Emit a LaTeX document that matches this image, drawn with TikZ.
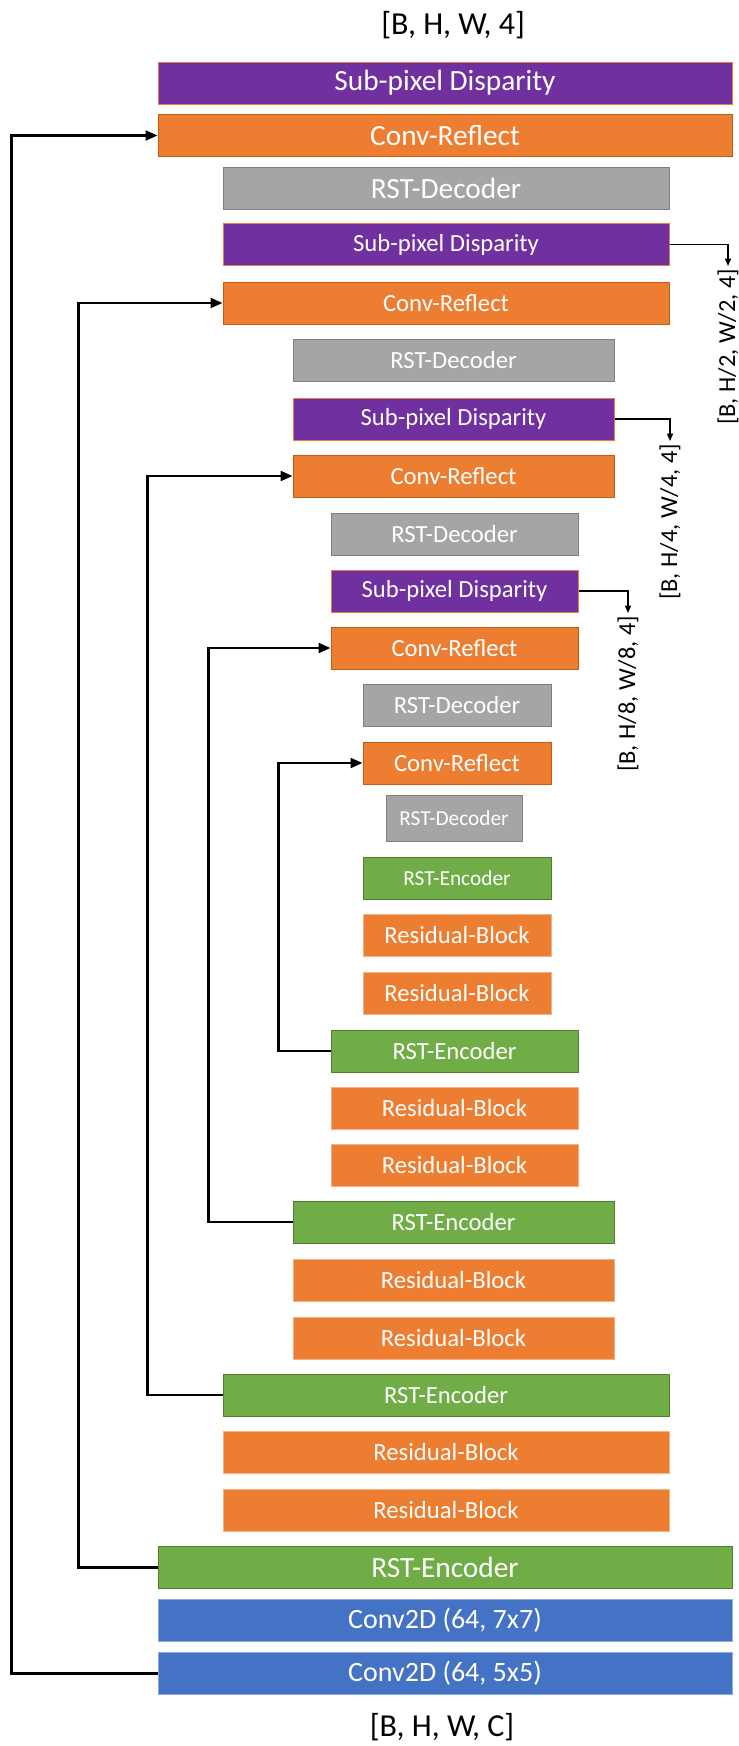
\documentclass[tikz,border=0pt]{standalone}
\usepackage{fontspec}
\setmainfont{Carlito}
\usepackage{tikz}
\usetikzlibrary{arrows.meta,positioning}
\definecolor{subpix}{RGB}{112,48,160}
\definecolor{convref}{RGB}{237,125,49}
\definecolor{rstdec}{RGB}{165,165,165}
\definecolor{rstenc}{RGB}{112,173,71}
\definecolor{convtd}{RGB}{68,114,196}
\definecolor{refedge}{RGB}{197,90,17}
\definecolor{decedge}{RGB}{127,127,127}
\definecolor{encedge}{RGB}{80,126,50}
\definecolor{resedge}{RGB}{244,177,131}
\definecolor{convedge}{RGB}{143,170,220}

\tikzset{
  blk/.style={minimum height=31.5pt, inner sep=0pt, text=white, line width=0.75pt},
  spbox/.style={blk, fill=subpix, draw=convref},
  crbox/.style={blk, fill=convref, draw=refedge},
  decbox/.style={blk, fill=rstdec, draw=decedge},
  encbox/.style={blk, fill=rstenc, draw=encedge},
  resbox/.style={blk, fill=convref, draw=resedge},
  cvbox/.style={blk, fill=convtd, draw=convedge},
  wA/.style={minimum width=430.5pt},
  wB/.style={minimum width=334.5pt},
  wC/.style={minimum width=240.75pt},
  wD/.style={minimum width=185.25pt},
  wE/.style={minimum width=141pt},
  wF/.style={minimum width=102pt},
  lg/.style={font=\fontsize{22}{26}\selectfont},
  md/.style={font=\fontsize{18.5}{22}\selectfont},
  sm/.style={font=\fontsize{16}{19}\selectfont},
  shapelbl/.style={font=\fontsize{24}{28}\selectfont},
  outlbl/.style={font=\fontsize{18.3}{22}\selectfont, rotate=90, anchor=east, inner sep=2pt},
  skip/.style={->, line width=1.7pt, >={Triangle[length=9pt, width=7.5pt]}},
  outarr/.style={->, line width=1.1pt, >={Triangle[length=5.5pt, width=4.5pt]}}
}

\begin{document}
\begin{tikzpicture}[x=0.75pt, y=-0.75pt]
    \useasboundingbox (0,0) rectangle (739,1746);

    % Decoder side
    \node[shapelbl] (top) at (453,25) {[B, H, W, 4]};
    \node[spbox, wA, lg] (sp0) at (445,83) {Sub-pixel Disparity};
    \node[crbox, wA, lg] (cr0) at (445,135.5) {Conv-Reflect};
    \node[decbox, wB, lg] (dec0) at (446,188) {RST-Decoder};
    \node[spbox, wB, md] (sp1) at (446,244.5) {Sub-pixel Disparity};
    \node[crbox, wB, md] (cr1) at (446,303) {Conv-Reflect};
    \node[decbox, wC, md] (dec1) at (453.5,360.5) {RST-Decoder};
    \node[spbox, wC, md] (sp2) at (453.5,419) {Sub-pixel Disparity};
    \node[crbox, wC, md] (cr2) at (453.5,476) {Conv-Reflect};
    \node[decbox, wD, md] (dec2) at (454.5,534) {RST-Decoder};
    \node[spbox, wD, md] (sp3) at (454.5,591) {Sub-pixel Disparity};
    \node[crbox, wD, md] (cr3) at (454.5,648) {Conv-Reflect};
    \node[decbox, wE, md] (dec3) at (457,705.5) {RST-Decoder};
    \node[crbox, wE, md] (cr4) at (457,763) {Conv-Reflect};
    \node[decbox, wF, sm, minimum height=34.5pt] (dec4) at (454,818) {RST-Decoder};

    % Encoder side
    \node[encbox, wE, sm] (enc4) at (457,878) {RST-Encoder};
    \node[resbox, wE, md] (rb4a) at (457,935.5) {Residual-Block};
    \node[resbox, wE, md] (rb4b) at (457,993) {Residual-Block};
    \node[encbox, wD, md] (enc3) at (454.5,1051) {RST-Encoder};
    \node[resbox, wD, md] (rb3a) at (454.5,1108) {Residual-Block};
    \node[resbox, wD, md] (rb3b) at (454.5,1165) {Residual-Block};
    \node[encbox, wC, md] (enc2) at (453.5,1222) {RST-Encoder};
    \node[resbox, wC, md] (rb2a) at (453.5,1280) {Residual-Block};
    \node[resbox, wC, md] (rb2b) at (453.5,1338) {Residual-Block};
    \node[encbox, wB, md] (enc1) at (446,1395) {RST-Encoder};
    \node[resbox, wB, md] (rb1a) at (446,1452.5) {Residual-Block};
    \node[resbox, wB, md] (rb1b) at (446,1510) {Residual-Block};
    \node[encbox, wA, lg] (enc0) at (445,1567.5) {RST-Encoder};
    \node[cvbox, wA, font=\fontsize{21}{25}\selectfont] (cv7) at (445,1620.5) {Conv2D (64, 7x7)};
    \node[cvbox, wA, font=\fontsize{21}{25}\selectfont] (cv5) at (445,1673.5) {Conv2D (64, 5x5)};
    \node[shapelbl] (bot) at (442,1727) {[B, H, W, C]};

    % Skip connections
    \draw[skip] (cv5.west) -- ++(-146,0) |- (cr0.west);
    \draw[skip] (enc0.west) -- ++(-79,0) |- (cr1.west);
    \draw[skip] (enc1.west) -- ++(-75,0) |- (cr2.west);
    \draw[skip] (enc2.west) -- ++(-84,0) |- (cr3.west);
    \draw[skip] (enc3.west) -- ++(-52,0) |- (cr4.west);

    % Disparity outputs
    \node[outlbl] (out1) at (728,266) {[B, H/2, W/2, 4]};
    \node[outlbl] (out2) at (670,441) {[B, H/4, W/4, 4]};
    \node[outlbl] (out3) at (628,613) {[B, H/8, W/8, 4]};
    \draw[outarr] (sp1.east) -| (out1.east);
    \draw[outarr] (sp2.east) -| (out2.east);
    \draw[outarr] (sp3.east) -| (out3.east);
\end{tikzpicture}
\end{document}
